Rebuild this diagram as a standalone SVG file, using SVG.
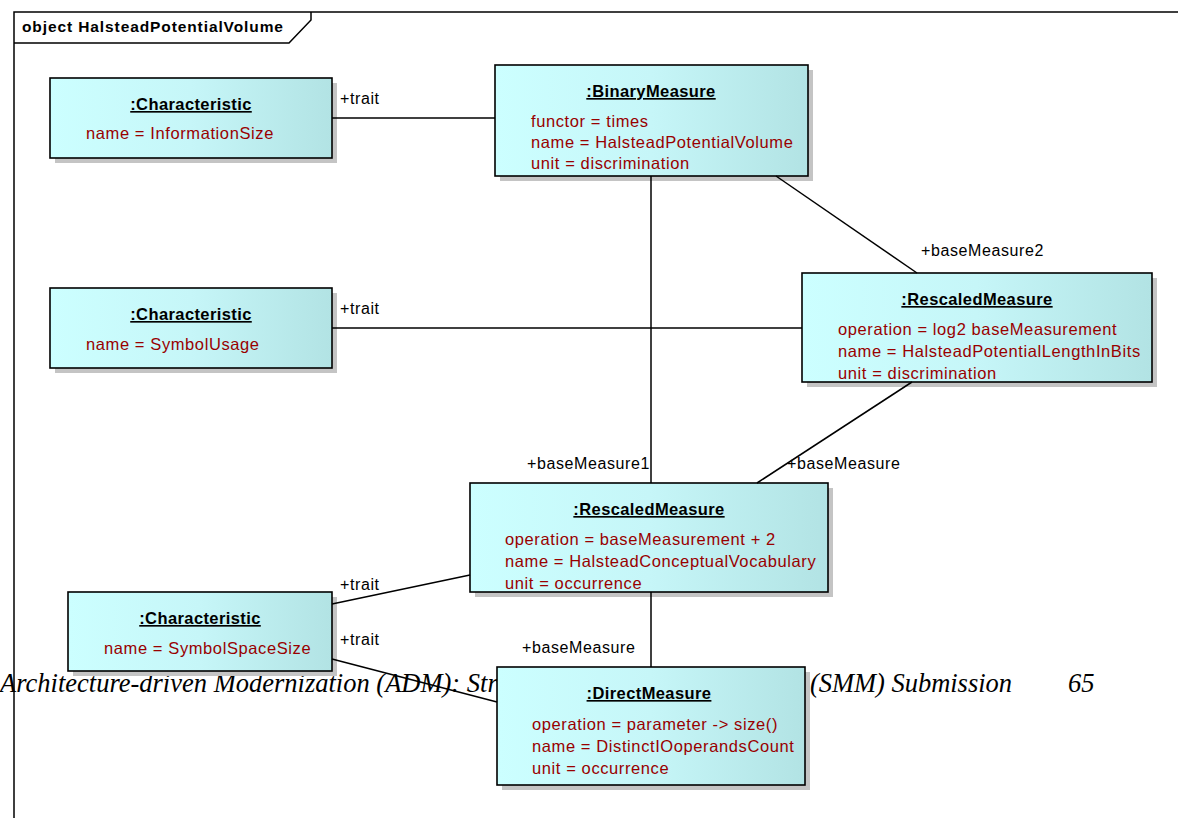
<svg xmlns="http://www.w3.org/2000/svg" width="1178" height="818" viewBox="0 0 1178 818">
<defs>
<linearGradient id="g" x1="0" y1="0" x2="1" y2="0">
<stop offset="0" stop-color="#CCFFFF"/>
<stop offset="0.5" stop-color="#C6F6F8"/>
<stop offset="1" stop-color="#B2E3E4"/>
</linearGradient>
</defs>
<style>
.box{fill:url(#g);stroke:#000;stroke-width:1.6}
.sh{fill:#C4C4C4}
.t{font-family:"Liberation Sans",Arial,sans-serif;font-size:16.5px;font-weight:bold;letter-spacing:0.4px;text-anchor:middle;text-decoration:underline;fill:#000}
.a{font-family:"Liberation Sans",Arial,sans-serif;font-size:16.5px;letter-spacing:0.6px;fill:#990000}
.l{font-family:"Liberation Sans",Arial,sans-serif;font-size:16px;letter-spacing:0.6px;fill:#000}
.c{stroke:#000;stroke-width:1.5;fill:none}
.f{font-family:"Liberation Serif","Times New Roman",serif;font-style:italic;font-size:26.5px;fill:#000}
</style>
<rect width="1178" height="818" fill="#fff"/>
<g id="frame">
<path d="M14,818 V12 H1178" fill="none" stroke="#000" stroke-width="1.5"/>
<path d="M14,43 H289 L311,20 V12" fill="none" stroke="#000" stroke-width="1.5"/>
<text x="22" y="32" font-family="Liberation Sans,Arial,sans-serif" font-size="15.5" font-weight="bold" letter-spacing="0.9">object HalsteadPotentialVolume</text>
</g>
<g id="footer">
<text class="f" x="0" y="692">Architecture-driven Modernization (ADM): Structured</text>
<text class="f" x="810" y="692" textLength="202" lengthAdjust="spacing">(SMM) Submission</text>
<text class="f" x="1068" y="692" font-size="27">65</text>
</g>
<g id="char1">
<rect class="sh" x="55" y="83" width="282" height="80"/>
<rect class="box" x="50" y="78" width="282" height="80"/>
<text class="t" x="191" y="110">:Characteristic</text>
<text class="a" x="86" y="139">name = InformationSize</text>
</g>
<g id="binary">
<rect class="sh" x="500" y="70" width="313" height="111"/>
<rect class="box" x="495" y="65" width="313" height="111"/>
<text class="t" x="651" y="97">:BinaryMeasure</text>
<text class="a" x="531" y="127">functor = times</text>
<text class="a" x="531" y="148">name = HalsteadPotentialVolume</text>
<text class="a" x="531" y="169">unit = discrimination</text>
</g>
<g id="char2">
<rect class="sh" x="55" y="293" width="282" height="80"/>
<rect class="box" x="50" y="288" width="282" height="80"/>
<text class="t" x="191" y="320">:Characteristic</text>
<text class="a" x="86" y="350">name = SymbolUsage</text>
</g>
<g id="rescaled1">
<rect class="sh" x="807" y="278" width="350" height="109"/>
<rect class="box" x="802" y="273" width="350" height="109"/>
<text class="t" x="977" y="305">:RescaledMeasure</text>
<text class="a" x="838" y="335">operation = log2 baseMeasurement</text>
<text class="a" x="838" y="357">name = HalsteadPotentialLengthInBits</text>
<text class="a" x="838" y="379">unit = discrimination</text>
</g>
<g id="rescaled2">
<rect class="sh" x="475" y="488" width="358" height="109"/>
<rect class="box" x="470" y="483" width="358" height="109"/>
<text class="t" x="649" y="515">:RescaledMeasure</text>
<text class="a" x="505" y="545">operation = baseMeasurement + 2</text>
<text class="a" x="505" y="567">name = HalsteadConceptualVocabulary</text>
<text class="a" x="505" y="589">unit = occurrence</text>
</g>
<g id="char3">
<rect class="sh" x="73" y="597" width="264" height="79"/>
<rect class="box" x="68" y="592" width="264" height="79"/>
<text class="t" x="200" y="624">:Characteristic</text>
<text class="a" x="104" y="654">name = SymbolSpaceSize</text>
</g>
<g id="direct">
<rect class="sh" x="502" y="672" width="308" height="118"/>
<rect class="box" x="497" y="667" width="308" height="118"/>
<text class="t" x="649" y="699">:DirectMeasure</text>
<text class="a" x="532" y="730">operation = parameter -&gt; size()</text>
<text class="a" x="532" y="752">name = DistinctIOoperandsCount</text>
<text class="a" x="532" y="774">unit = occurrence</text>
</g>
<g id="connectors">
<line class="c" x1="332" y1="118" x2="495" y2="118"/>
<line class="c" x1="651" y1="176" x2="651" y2="483"/>
<line class="c" x1="776" y1="176" x2="917" y2="273"/>
<line class="c" x1="332" y1="328" x2="802" y2="328"/>
<line class="c" x1="912" y1="382" x2="757" y2="483"/>
<line class="c" x1="332" y1="604" x2="470" y2="575"/>
<line class="c" x1="332" y1="659" x2="497" y2="702"/>
<line class="c" x1="651" y1="592" x2="651" y2="667"/>
<text class="l" x="340" y="104">+trait</text>
<text class="l" x="527" y="469">+baseMeasure1</text>
<text class="l" x="921" y="256">+baseMeasure2</text>
<text class="l" x="340" y="314">+trait</text>
<text class="l" x="787" y="469">+baseMeasure</text>
<text class="l" x="340" y="590">+trait</text>
<text class="l" x="340" y="645">+trait</text>
<text class="l" x="522" y="653">+baseMeasure</text>
</g>
</svg>
